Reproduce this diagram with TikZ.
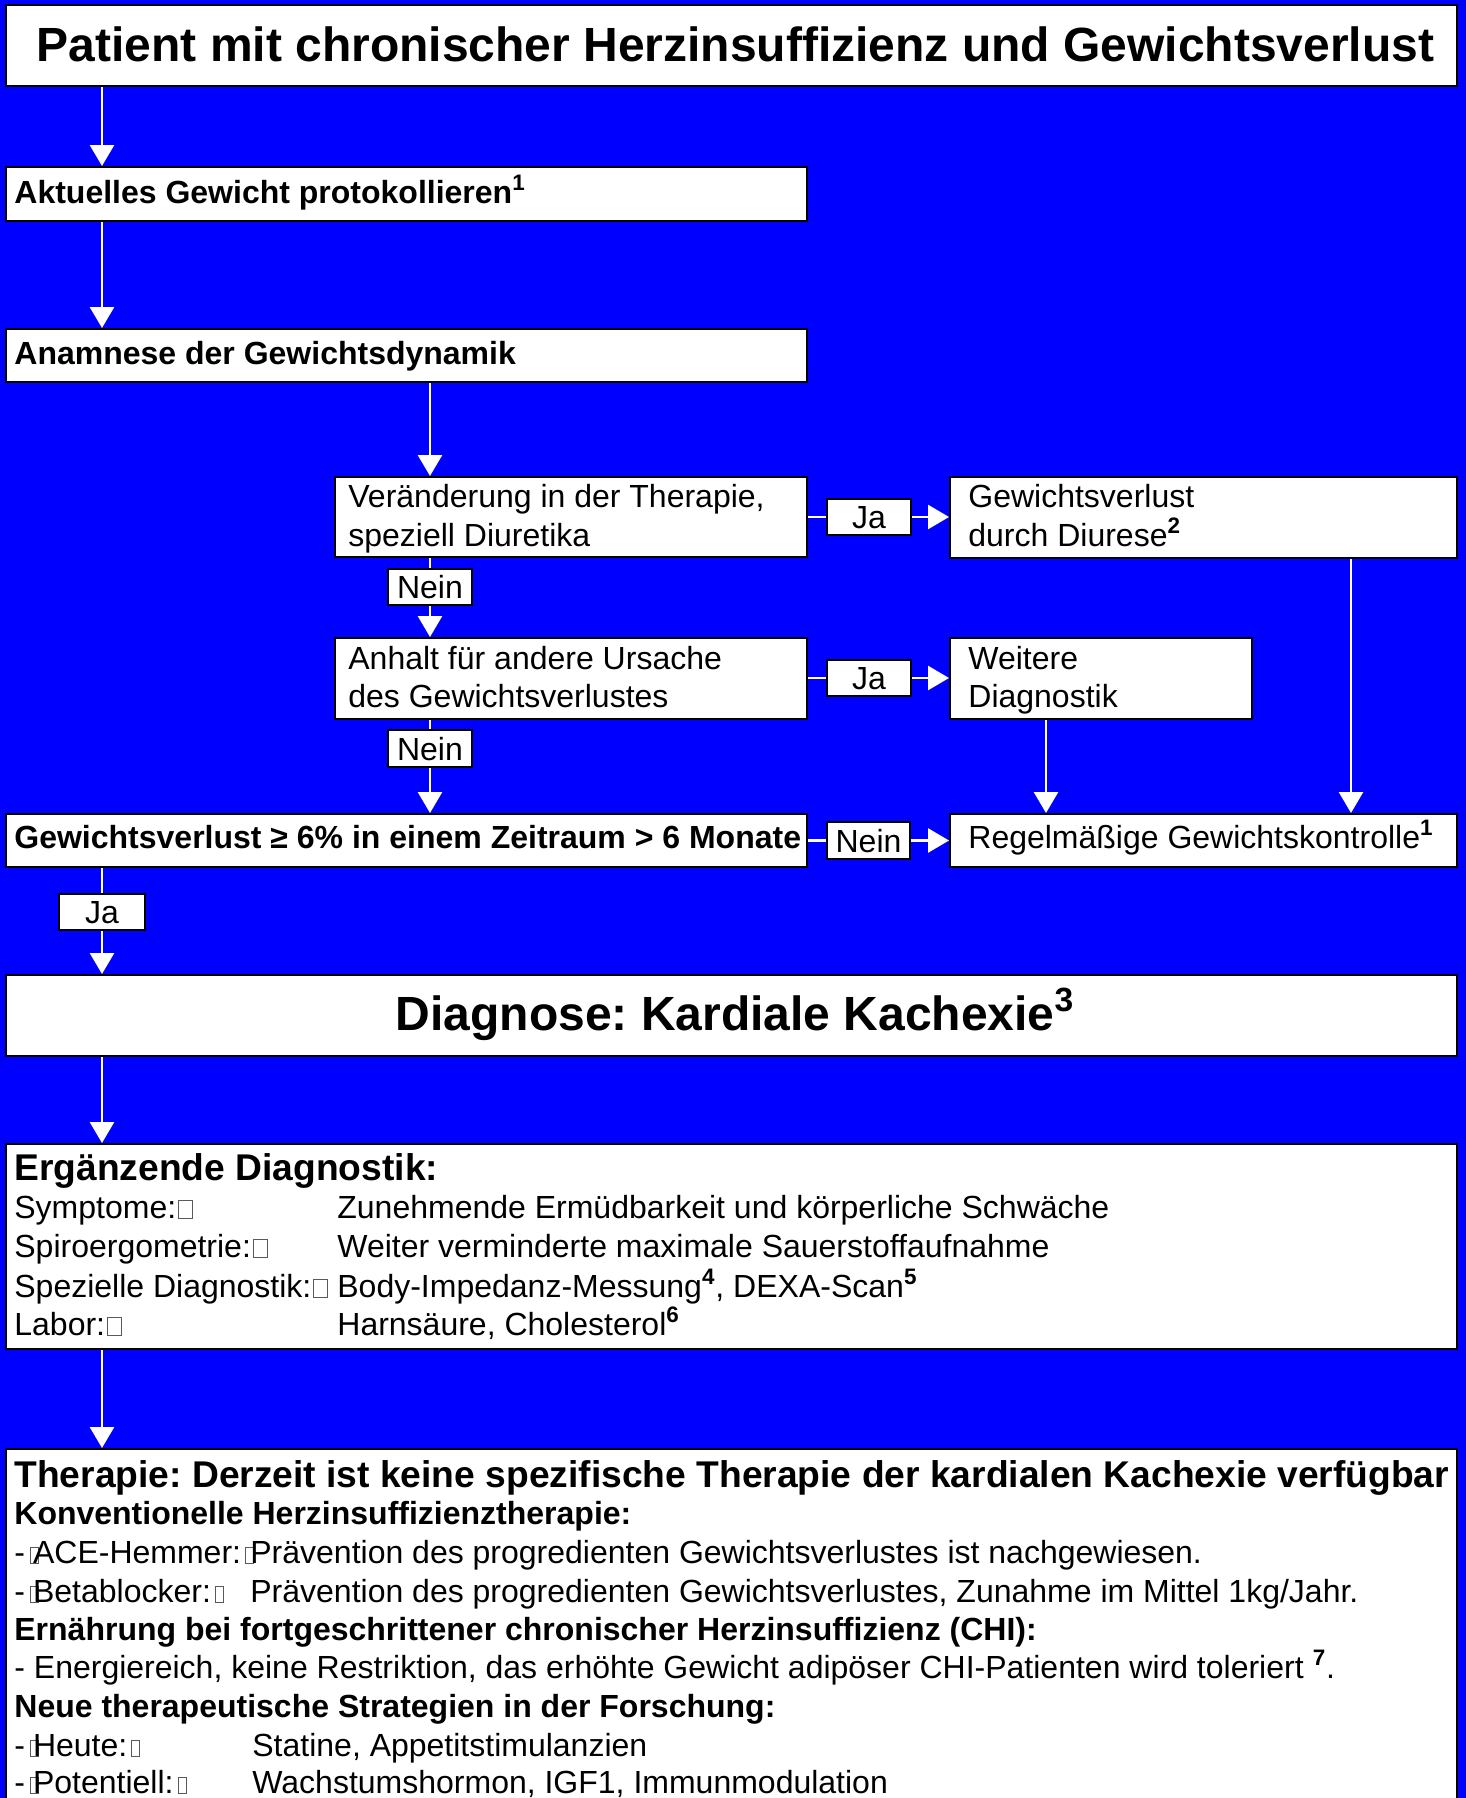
\documentclass[tikz,border=0pt]{standalone}
\usepackage{fontspec}
\setmainfont{Liberation Sans}
\usetikzlibrary{arrows.meta,fit}
\frenchspacing
\newcommand{\tofubox}[2]{{\color{black!65}\setlength{\fboxsep}{0pt}\setlength{\fboxrule}{0.5pt}\fbox{\rule{0pt}{#2}\rule{#1}{0pt}}}}
\newcommand{\tofuE}{\kern1pt\tofubox{6.5pt}{8.5pt}}
\newcommand{\tofuD}{\kern2.4pt\rlap{\tofubox{3.5pt}{7.5pt}}\kern1.6pt}
\newcommand{\tofuT}{\kern2pt\tofubox{3.5pt}{7.5pt}}
\newcommand{\hsup}[1]{\textsuperscript{\bfseries #1}}
\tikzset{
  box/.style={draw=black, line width=1pt, fill=white, inner sep=0pt},
  labtxt/.style={anchor=base, inner sep=0pt, font=\fontsize{16pt}{19pt}\selectfont},
  conn/.style={draw=white, line width=1.35pt},
  arr/.style={conn, -{Triangle[width=12pt,length=10.5pt]}},
  txt/.style={anchor=base west, inner sep=0pt, font=\fontsize{16pt}{19pt}\selectfont},
  btxt/.style={anchor=base west, inner sep=0pt, font=\fontsize{16pt}{19pt}\selectfont\bfseries},
  htxt/.style={anchor=base west, inner sep=0pt, font=\fontsize{18.6pt}{22pt}\selectfont\bfseries},
  ttxt/.style={anchor=base, inner sep=0pt, font=\fontsize{24pt}{28pt}\selectfont\bfseries}
}
\begin{document}
\begin{tikzpicture}[x=0.5pt,y=-0.5pt]
\useasboundingbox (0,0) rectangle (1466,1798);
\fill[blue] (0,0) rectangle (1466,1798);
% boxes
\node[box, fit={(6,5) (1457,86)}] (title) {};
\node[box, fit={(6,167) (807,221)}] (akt) {};
\node[box, fit={(6,329) (807,382)}] (anam) {};
\node[box, fit={(335,477) (807,557)}] (ver) {};
\node[box, fit={(950,477) (1457,558)}] (diu) {};
\node[box, fit={(827,499) (911,535)}] (ja1) {};
\node[box, fit={(388,569) (472,605)}] (nein1) {};
\node[box, fit={(335,638) (807,719)}] (anh) {};
\node[box, fit={(827,660) (911,696)}] (ja2) {};
\node[box, fit={(950,638) (1252,719)}] (wei) {};
\node[box, fit={(388,730) (472,767)}] (nein2) {};
\node[box, fit={(6,814) (807,867)}] (gew) {};
\node[box, fit={(827,822) (910,859)}] (nein3) {};
\node[box, fit={(950,814) (1457,867)}] (reg) {};
\node[box, fit={(59,894) (145,930)}] (ja3) {};
\node[box, fit={(6,975) (1457,1056)}] (diag) {};
\node[box, fit={(6,1144) (1457,1349)}] (erg) {};
\node[box, fit={(6,1449) (1457,1803)}] (ther) {};
% label texts
\node[labtxt] (l-ja1) at ([yshift=-5.75pt]ja1.center) {Ja};
\node[labtxt] (l-nein1) at ([yshift=-5.75pt]nein1.center) {Nein};
\node[labtxt] (l-ja2) at ([yshift=-5.75pt]ja2.center) {Ja};
\node[labtxt] (l-nein2) at ([yshift=-5.75pt]nein2.center) {Nein};
\node[labtxt] (l-nein3) at ([yshift=-5.75pt]nein3.center) {Nein};
\node[labtxt] (l-ja3) at ([yshift=-5.75pt]ja3.center) {Ja};
% connector columns
\coordinate (xa) at (102,0);
\coordinate (xb) at (430,0);
\coordinate (xc) at (1046,0);
\coordinate (xd) at (1351,0);
% connectors
\draw[arr] (title.south -| xa) -- (akt.north -| xa);
\draw[arr] (akt.south -| xa) -- (anam.north -| xa);
\draw[arr] (anam.south -| xb) -- (ver.north -| xb);
\draw[conn] (ver.east |- ja1) -- (ja1.west);
\draw[arr] (ja1.east) -- (diu.west |- ja1);
\draw[conn] (ver.south -| xb) -- (nein1.north -| xb);
\draw[arr] (nein1.south -| xb) -- (anh.north -| xb);
\draw[conn] (anh.east |- ja2) -- (ja2.west);
\draw[arr] (ja2.east) -- (wei.west |- ja2);
\draw[conn] (anh.south -| xb) -- (nein2.north -| xb);
\draw[arr] (nein2.south -| xb) -- (gew.north -| xb);
\draw[arr] (wei.south -| xc) -- (reg.north -| xc);
\draw[arr] (diu.south -| xd) -- (reg.north -| xd);
\draw[conn] (gew.east |- nein3) -- (nein3.west);
\draw[arr] (nein3.east) -- (reg.west |- nein3);
\draw[conn] (gew.south -| xa) -- (ja3.north -| xa);
\draw[arr] (ja3.south -| xa) -- (diag.north -| xa);
\draw[arr] (diag.south -| xa) -- (erg.north -| xa);
\draw[arr] (erg.south -| xa) -- (ther.north -| xa);
% texts
\node[ttxt] (t-title) at (735.5,62) {Patient mit chronischer Herzinsuffizienz und Gewichtsverlust};
\node[btxt] (t-akt) at (14,203) {Aktuelles Gewicht protokollieren\hsup{1}};
\node[btxt] (t-anam) at (14,364) {Anamnese der Gewichtsdynamik};
\node[txt] (t-ver1) at (348,507) {Veränderung in der Therapie,};
\node[txt] (t-ver2) at (348,546) {speziell Diuretika};
\node[txt] (t-diu1) at (968,507) {Gewichtsverlust};
\node[txt] (t-diu2) at (968,546) {durch Diurese\hsup{2}};
\node[txt] (t-anh1) at (348,669) {Anhalt für andere Ursache};
\node[txt] (t-anh2) at (348,707) {des Gewichtsverlustes};
\node[txt] (t-wei1) at (968,669) {Weitere};
\node[txt] (t-wei2) at (968,707) {Diagnostik};
\node[btxt] (t-gew) at (14,848) {Gewichtsverlust ≥ 6\% in einem Zeitraum > 6 Monate};
\node[txt] (t-reg) at (968,848) {Regelmäßige Gewichtskontrolle\hsup{1}};
\node[ttxt] (t-diag) at (735,1030) {Diagnose: Kardiale Kachexie\textsuperscript{3}};
% Ergänzende Diagnostik
\node[htxt] (e0) at (14,1180) {Ergänzende Diagnostik:};
\node[txt] (e1a) at (14,1218) {Symptome:\tofuE};
\node[txt] (e1b) at (337,1218) {Zunehmende Ermüdbarkeit und körperliche Schwäche};
\node[txt] (e2a) at (14,1257) {Spiroergometrie:\tofuE};
\node[txt] (e2b) at (337,1257) {Weiter verminderte maximale Sauerstoffaufnahme};
\node[txt] (e3a) at (14,1297) {Spezielle Diagnostik:\tofuE};
\node[txt] (e3b) at (337,1297) {Body-Impedanz-Messung\hsup{4}, DEXA-Scan\hsup{5}};
\node[txt] (e4a) at (14,1335) {Labor:\tofuE};
\node[txt] (e4b) at (337,1335) {Harnsäure, Cholesterol\hsup{6}};
% Therapie
\node[htxt] (h0) at (14,1487) {Therapie: Derzeit ist keine spezifische Therapie der kardialen Kachexie verfügbar};
\node[btxt] (h1) at (14,1524) {Konventionelle Herzinsuffizienztherapie:};
\node[txt] (h2a) at (14,1563) {-\tofuD ACE-Hemmer:\tofuT};
\node[txt] (h2b) at (250,1563) {Prävention des progredienten Gewichtsverlustes ist nachgewiesen.};
\node[txt] (h3a) at (14,1602) {-\tofuD Betablocker:\tofuT};
\node[txt] (h3b) at (250,1602) {Prävention des progredienten Gewichtsverlustes, Zunahme im Mittel 1kg/Jahr.};
\node[btxt] (h4) at (14,1640) {Ernährung bei fortgeschrittener chronischer Herzinsuffizienz (CHI):};
\node[txt] (h5) at (14,1678) {- Energiereich, keine Restriktion, das erhöhte Gewicht adipöser CHI-Patienten wird toleriert \hsup{7}.};
\node[btxt] (h6) at (14,1717) {Neue therapeutische Strategien in der Forschung:};
\node[txt] (h7a) at (14,1756) {-\tofuD Heute:\tofuT};
\node[txt] (h7b) at (252,1756) {Statine, Appetitstimulanzien};
\node[txt] (h8a) at (14,1793) {-\tofuD Potentiell:\tofuT};
\node[txt] (h8b) at (252,1793) {Wachstumshormon, IGF1, Immunmodulation};
\end{tikzpicture}
\end{document}
